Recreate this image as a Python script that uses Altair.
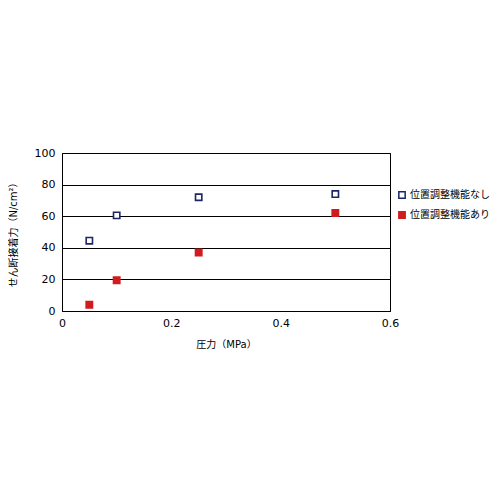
import altair as alt
import pandas as pd

pressure = [0.05, 0.1, 0.25, 0.5]
without_adj = [44.5, 60.5, 72, 74]
with_adj = [4, 19.5, 37, 62]
series_names = ["位置調整機能なし", "位置調整機能あり"]

rows = []
for p, v in zip(pressure, without_adj):
    rows.append({"pressure": p, "force": v, "series": series_names[0]})
for p, v in zip(pressure, with_adj):
    rows.append({"pressure": p, "force": v, "series": series_names[1]})
df = pd.DataFrame(rows)

FONT = "DejaVu Sans, Noto Sans CJK JP"

chart = alt.Chart(df).mark_point(shape="square", size=40, strokeWidth=1.6, opacity=1).encode(
    x=alt.X("pressure:Q", scale=alt.Scale(domain=[0, 0.6], nice=False),
            axis=alt.Axis(title="圧力（MPa）", values=[0, 0.2, 0.4, 0.6], format="~g",
                          grid=False, ticks=False, labelPadding=6, labelFlush=False,
                          domainColor="black",
                          labelFont=FONT, labelFontSize=11, labelColor="black",
                          titleFont=FONT, titleFontSize=10, titleFontWeight="normal",
                          titleColor="black", titleY=28, titleBaseline="top")),
    y=alt.Y("force:Q", scale=alt.Scale(domain=[0, 100], nice=False),
            axis=alt.Axis(title="せん断接着力（N/cm²）", values=[0, 20, 40, 60, 80, 100],
                          grid=True, gridColor="black", gridWidth=1, gridOpacity=1,
                          ticks=False, labelPadding=7, labelFlush=False, domainColor="black",
                          labelFont=FONT, labelFontSize=11, labelColor="black",
                          titleFont=FONT, titleFontSize=10, titleFontWeight="normal",
                          titleColor="black", titleX=-44)),
    color=alt.Color("series:N", scale=alt.Scale(domain=series_names, range=["#1c2566", "#d01c1f"]),
                    legend=alt.Legend(title=None, orient="none", legendX=335, legendY=37,
                                      labelFont=FONT, labelFontSize=10, labelColor="black",
                                      symbolSize=40, rowPadding=6, labelOffset=3)),
    fill=alt.Fill("series:N", scale=alt.Scale(domain=series_names, range=["white", "#d01c1f"]),
                  legend=None),
).properties(
    width=328, height=158,
    padding={"left": 54, "top": 145, "right": 102, "bottom": 170},
    autosize=alt.AutoSizeParams(type="none"),
    background="white",
).configure_view(stroke="black", strokeWidth=1)

chart.save("out.html", embed_options={"renderer": "svg", "actions": False})
